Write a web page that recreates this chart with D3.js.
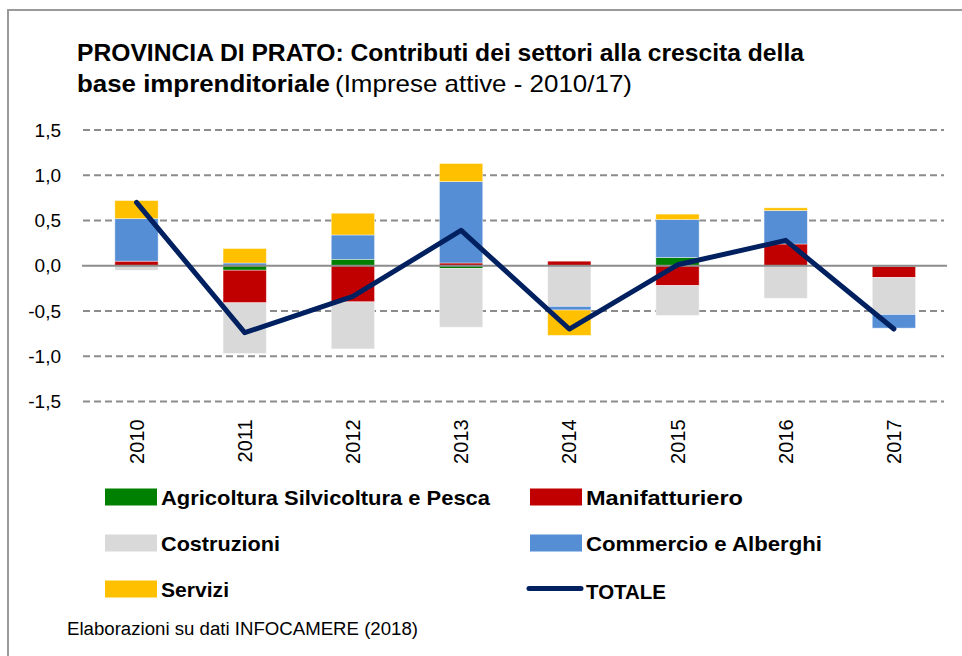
<!DOCTYPE html>
<html lang="it">
<head>
    <meta charset="UTF-8">
    <title>Provincia di Prato - contributi dei settori</title>
    <script src="https://d3js.org/d3.v7.min.js"></script>
    <style>
        body { margin: 0; background: #fff; }
        svg text { font-family: "Liberation Sans", Arial, sans-serif; fill: #000; }
        .title { font-family: "Liberation Sans Narrow", "Liberation Sans", Arial, sans-serif; }
    </style>
</head>
<body>
    <div id="chart"></div>

    <script>
        // data
        const years = ["2010", "2011", "2012", "2013", "2014", "2015", "2016", "2017"];
        const agricoltura = [0.00, -0.05, 0.07, -0.03, 0.00, 0.09, 0.00, -0.01];
        const manifatturiero = [0.05, -0.36, -0.40, 0.03, 0.05, -0.22, 0.24, -0.12];
        const costruzioni = [-0.05, -0.56, -0.52, -0.65, -0.45, -0.33, -0.36, -0.41];
        const commercio = [0.47, 0.03, 0.27, 0.90, -0.04, 0.42, 0.37, -0.15];
        const servizi = [0.20, 0.16, 0.24, 0.20, -0.28, 0.06, 0.03, 0.00];
        const totale = [0.70, -0.74, -0.34, 0.39, -0.70, 0.01, 0.28, -0.70];
        const yTicks = [-1.5, -1.0, -0.5, 0, 0.5, 1.0, 1.5];

        const seriesKeys = ["agri", "manif", "costr", "comm", "serv"];
        const seriesNames = {
            agri: "Agricoltura Silvicoltura  e Pesca",
            manif: "Manifatturiero",
            costr: "Costruzioni",
            comm: "Commercio e Alberghi",
            serv: "Servizi"
        };
        const colors = {
            agri: "#008000",
            manif: "#C00000",
            costr: "#D9D9D9",
            comm: "#558ED5",
            serv: "#FFC000"
        };

        const table = years.map((y, i) => ({
            year: y,
            agri: agricoltura[i],
            manif: manifatturiero[i],
            costr: costruzioni[i],
            comm: commercio[i],
            serv: servizi[i],
            tot: totale[i]
        }));

        const W = 962, H = 656;
        const svg = d3.select("#chart").append("svg")
            .attr("width", W)
            .attr("height", H);

        // outer frame
        svg.append("rect")
            .attr("x", 8).attr("y", 10)
            .attr("width", W + 20).attr("height", H + 20)
            .attr("fill", "#fff")
            .attr("stroke", "#9a9a9a")
            .attr("stroke-width", 2);

        // title
        svg.append("text").attr("class", "title")
            .attr("x", 77).attr("y", 61)
            .attr("font-size", 24).attr("font-weight", "bold")
            .attr("textLength", 727).attr("lengthAdjust", "spacingAndGlyphs")
            .text("PROVINCIA DI PRATO: Contributi dei settori alla crescita della");
        svg.append("text").attr("class", "title")
            .attr("x", 77).attr("y", 92)
            .attr("font-size", 24).attr("font-weight", "bold")
            .attr("textLength", 253).attr("lengthAdjust", "spacingAndGlyphs")
            .text("base imprenditoriale");
        svg.append("text").attr("class", "title")
            .attr("x", 335).attr("y", 92)
            .attr("font-size", 24)
            .attr("textLength", 297).attr("lengthAdjust", "spacingAndGlyphs")
            .text("(Imprese attive - 2010/17)");

        // scales
        const x = d3.scaleBand()
            .domain(years)
            .range([82.4, 948])
            .paddingInner(0.6)
            .paddingOuter(0.3);

        const y = d3.scaleLinear()
            .domain([-1.5, 1.5])
            .range([401.4, 130]);

        // gridlines
        svg.append("g")
            .selectAll("line")
            .data(yTicks.filter(d => d !== 0))
            .join("line")
            .attr("x1", 83).attr("x2", 944)
            .attr("y1", d => y(d)).attr("y2", d => y(d))
            .attr("stroke", "#8c8c8c")
            .attr("stroke-width", 2)
            .attr("stroke-dasharray", "7,4");

        // y axis labels
        const yAxis = svg.append("g")
            .attr("transform", "translate(82,0)")
            .call(d3.axisLeft(y).tickValues(yTicks).tickSize(0).tickPadding(21)
                .tickFormat(d => d3.format(".1f")(d).replace(".", ",").replace("−", "-")));
        yAxis.select(".domain").remove();
        yAxis.selectAll("text")
            .attr("font-size", 19)
            .attr("font-family", "Liberation Sans, Arial, sans-serif")
            .attr("fill", "#000");

        // stacked bars
        const stack = d3.stack()
            .keys(seriesKeys)
            .offset(d3.stackOffsetDiverging);
        const stacked = stack(table);

        svg.append("g")
            .selectAll("g")
            .data(stacked)
            .join("g")
            .attr("fill", d => colors[d.key])
            .selectAll("rect")
            .data(d => d)
            .join("rect")
            .attr("x", d => x(d.data.year))
            .attr("width", x.bandwidth())
            .attr("y", d => y(Math.max(d[0], d[1])))
            .attr("height", d => Math.abs(y(d[0]) - y(d[1])))
            .attr("stroke", "#fff")
            .attr("stroke-width", 0.8)
            .attr("stroke-opacity", 0.5);

        // zero line
        svg.append("line")
            .attr("x1", 82).attr("x2", 947)
            .attr("y1", y(0)).attr("y2", y(0))
            .attr("stroke", "#8c8c8c")
            .attr("stroke-width", 2);

        // TOTALE line
        const line = d3.line()
            .x(d => x(d.year) + x.bandwidth() / 2)
            .y(d => y(d.tot));
        svg.append("path")
            .datum(table)
            .attr("d", line)
            .attr("fill", "none")
            .attr("stroke", "#002060")
            .attr("stroke-width", 5)
            .attr("stroke-linecap", "round")
            .attr("stroke-linejoin", "round");

        // x axis labels (rotated)
        const xAxis = svg.append("g")
            .attr("transform", "translate(0,401.4)")
            .call(d3.axisBottom(x).tickSize(0).tickPadding(0));
        xAxis.select(".domain").remove();
        xAxis.selectAll("text")
            .attr("font-size", 20)
            .attr("font-family", "Liberation Sans, Arial, sans-serif")
            .attr("fill", "#000")
            .attr("text-anchor", "end")
            .attr("dy", "0.35em")
            .attr("transform", "translate(0,18) rotate(-90)")
            .attr("x", 0).attr("y", 0);

        // legend
        const legendItems = [
            { key: "agri", col: 0, row: 0 },
            { key: "manif", col: 1, row: 0 },
            { key: "costr", col: 0, row: 1 },
            { key: "comm", col: 1, row: 1 },
            { key: "serv", col: 0, row: 2 },
            { key: "tot", col: 1, row: 2 }
        ];
        const legendWidths = { agri: 329, manif: 157, costr: 119, comm: 236, serv: 68, tot: 80 };
        const colX = [105, 530];
        const rowY = [497, 543, 589];

        const legend = svg.append("g")
            .selectAll("g")
            .data(legendItems)
            .join("g")
            .attr("transform", d => `translate(${colX[d.col]},${rowY[d.row]})`);

        legend.filter(d => d.key !== "tot")
            .append("rect")
            .attr("x", 0).attr("y", -8.5)
            .attr("width", 52).attr("height", 17)
            .attr("fill", d => colors[d.key]);

        legend.filter(d => d.key === "tot")
            .append("line")
            .attr("x1", -1).attr("x2", 51)
            .attr("y1", -0.5).attr("y2", -0.5)
            .attr("stroke", "#002060")
            .attr("stroke-width", 5)
            .attr("stroke-linecap", "round");

        legend.append("text")
            .attr("x", 56)
            .attr("y", d => d.key === "tot" ? 9.5 : 7.5)
            .attr("font-size", 21)
            .attr("font-weight", "bold")
            .attr("textLength", d => legendWidths[d.key])
            .attr("lengthAdjust", "spacingAndGlyphs")
            .text(d => d.key === "tot" ? "TOTALE" : seriesNames[d.key]);

        // source
        svg.append("text")
            .attr("x", 67).attr("y", 635)
            .attr("font-size", 18)
            .attr("textLength", 351)
            .attr("lengthAdjust", "spacingAndGlyphs")
            .text("Elaborazioni su dati INFOCAMERE (2018)");
    </script>
</body>
</html>
